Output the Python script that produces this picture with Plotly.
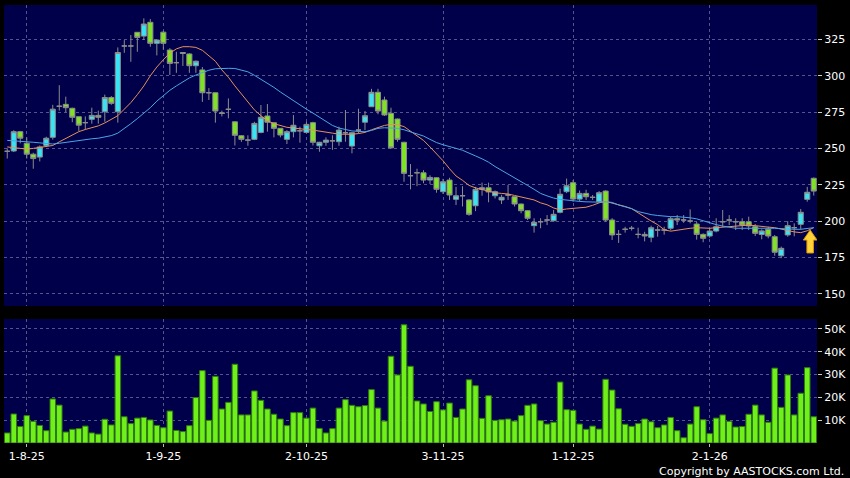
import pandas as pd
import plotly.graph_objects as go
from plotly.subplots import make_subplots

# trading days shown (HK holidays removed)
holidays = ["2025-10-01", "2025-10-29", "2025-12-25", "2025-12-26", "2026-01-01"]
days = pd.bdate_range("2025-07-29", "2026-01-26")
dates = [d.strftime("%Y-%m-%d") for d in days if d.strftime("%Y-%m-%d") not in holidays]

tick_dates = ["2025-08-01", "2025-09-01", "2025-10-02", "2025-11-03", "2025-12-01", "2026-01-02"]
tick_labels = ["1-8-25", "1-9-25", "2-10-25", "3-11-25", "1-12-25", "2-1-26"]

opens = [248, 248.2, 261.5, 253.5, 246, 244, 252, 257.6, 279, 280.3,
         277.6, 271.8, 267.7, 270, 272.7, 275.2, 285, 275.2, 320.5, 320.5,
         329.9, 327.3, 336.8, 322.3, 330, 317.7, 309, 316, 315, 306.9,
         304, 288.3, 288.3, 274.5, 276.9, 268.3, 258.7, 255.7, 256.2, 261,
         272.3, 267.7, 263.8, 256.2, 261.5, 262.1, 261, 267.7, 251.8, 254.2,
         255.2, 254.6, 260.8, 251.6, 262.6, 268, 278.7, 288.6, 283.3, 274.1,
         270.2, 254.2, 231.2, 233.2, 233.2, 228.2, 229.8, 220.2, 228.2, 214.9,
         217.4, 214.5, 210.5, 221.8, 222.9, 217.4, 214.5, 217.9, 216.7, 211.7,
         207.1, 196.8, 199.5, 200.7, 200.2, 206, 220.2, 226.4, 215.1, 219,
         216.3, 213.3, 220.6, 200.7, 190.8, 194.3, 195, 190.8, 190.8, 188.8,
         193.8, 193.8, 195, 201.6, 200.7, 200, 197.9, 190.8, 189.7, 193.1,
         199.5, 200.7, 199.5, 199.5, 199.5, 196.1, 190.7, 194.3, 189.2, 176.1,
         190.4, 195.4, 197.7, 214.9, 229.4]
highs = [250, 262.5, 262, 257.5, 247, 252, 258, 280, 293.5, 285.6,
         278, 272, 272, 278, 276, 287, 286, 319.5, 324.5, 328,
         330, 339.5, 339, 325, 331, 319, 316.5, 316, 315.5, 310.5,
         306, 291.5, 288.5, 276, 284.4, 268.5, 259, 259, 268.3, 279.8,
         280.5, 268, 264, 262.6, 273, 264.9, 268.3, 268.3, 254.5, 257.6,
         259, 264.9, 276.4, 261, 277.3, 275.7, 291, 291, 285.6, 278,
         270.5, 254.5, 239.2, 236, 235, 231.5, 230, 229, 229.8, 223.5,
         224, 215, 223.5, 226.4, 226.4, 221, 218, 224.8, 217, 212,
         207.5, 201.9, 201.9, 204.1, 207.6, 222.3, 229.2, 228.2, 221, 221.5,
         217.9, 220.6, 221.2, 202, 193.8, 196, 196.6, 195.4, 192.6, 196.8,
         196.6, 196.1, 203, 204.1, 204.1, 208, 199.5, 191.5, 195, 201.9,
         207.6, 204.1, 201.9, 201.9, 203, 197.9, 194.3, 196.1, 190.4, 182.4,
         199.9, 198.4, 208.3, 223.5, 230]
lows = [243, 247.5, 253.5, 243, 236, 241, 251, 256, 276, 275,
        268, 262, 263, 267, 267, 268.3, 280, 267.7, 315.8, 309.6,
        316.5, 324.6, 320, 314, 318, 300.5, 302, 306.7, 302, 302,
        282, 283.3, 267.7, 272, 270.7, 252, 254.5, 251.8, 255.7, 260.4,
        261.5, 257.6, 257.6, 253, 257.6, 253.9, 260.4, 252, 247.7, 251.8,
        249, 251.8, 254.6, 246.6, 260.4, 262.6, 278.7, 273.5, 272.3, 249.8,
        254.6, 227, 221.8, 224, 226, 225.5, 219.5, 218.6, 214.5, 211,
        210, 203.6, 206.8, 217.4, 212.9, 215.5, 211.7, 214.5, 210, 205.3,
        200.7, 192, 195, 197.2, 199.5, 205.3, 219.2, 213.3, 213.3, 214.5,
        214.5, 212.5, 199.6, 187, 184.9, 192, 193.4, 188.1, 186, 185.4,
        189.2, 190.6, 193.6, 197.2, 198.8, 198.4, 187.2, 185.4, 188.5, 192.2,
        196, 197.2, 193.8, 193.8, 193.8, 189.7, 187.4, 188.1, 176.1, 174.4,
        189.2, 189.5, 194.3, 213.3, 217.5]
closes = [248, 261.5, 257, 246, 243, 251, 257, 277, 279, 278,
          271.4, 266, 267.7, 272.7, 271.4, 285, 281, 316, 320.5, 320.5,
          326.4, 335.6, 322.3, 324.6, 322.3, 308.5, 309, 315.4, 306.9, 310,
          288.3, 288.3, 275.7, 274, 276.9, 259, 256.2, 255.7, 267.2, 271.4,
          268, 263.8, 259.2, 261.5, 265.9, 262.1, 266.5, 254.2, 254.2, 255.7,
          255.2, 262.6, 260.8, 260.8, 262.6, 272.5, 288.6, 275.7, 273, 250.4,
          256.2, 232.8, 231.2, 233.2, 228.2, 230, 221.8, 227, 217.9, 217.4,
          217.4, 204.6, 221.8, 222.9, 220, 220.2, 216.3, 217.9, 211.7, 207.1,
          201.9, 199.1, 199.5, 200.7, 204.6, 218.4, 224.3, 215.1, 219, 216.7,
          216.3, 219.5, 200.7, 190.4, 190.8, 194.3, 195, 190.8, 189.7, 195.4,
          193.8, 193.8, 201.6, 200.7, 200.7, 200, 190.8, 188.1, 193.1, 196.1,
          199.5, 200.7, 199.5, 197.2, 196.6, 191.5, 193.2, 189.7, 178.5, 181.2,
          196.8, 195.4, 206, 219.8, 220.6]

# moving averages as drawn on the chart
ma_short = [251, 250.5, 250, 249.5, 250, 250.5, 251, 252, 254.5, 257,
            259.5, 261.5, 263, 264, 265.5, 267.5, 270, 272.5, 277, 281.5,
            287, 293, 300, 306, 311, 315.5, 318.5, 320, 320, 319.5,
            317.5, 314, 310, 304, 299, 293, 287.5, 282, 276.5, 272.5,
            269, 267, 265.5, 264.5, 264, 263.3, 263, 262.6, 262, 261.6,
            260.5, 259.8, 259.7, 259.7, 260.2, 261, 262.8, 264.5, 265.8, 266.5,
            266.3, 265, 262, 258.5, 255.5, 251, 246.5, 241.5, 236, 231,
            228, 224.5, 222.8, 221.7, 220.5, 219.4, 219, 218.6, 217.6, 216.7,
            215.5, 214.5, 212.5, 211.2, 209, 207.6, 208.3, 208.7, 208.7, 209.5,
            210.8, 212.5, 213.5, 212.5, 211, 210, 208.5, 205.5, 202.5, 200,
            197.5, 194, 193, 193.8, 194.5, 195, 195.4, 195.2, 195, 195.4,
            195.8, 196.4, 196.8, 197.1, 197.2, 196.8, 196.1, 195.8, 195.4, 194.3,
            193.1, 192.5, 192, 193.3, 195.5]
ma_long = [255.5, 255.3, 255, 254.6, 254.2, 253.8, 253.3, 253, 253.5, 254.2,
           254.8, 255.5, 256.2, 256.6, 257, 257.8, 258.8, 260.5, 263.5, 267,
           270.5, 274, 278, 282.5, 286.5, 290, 293, 296, 298.5, 300.5,
           302.3, 303.8, 304.8, 305.1, 305.1, 305, 304, 302.7, 300.3, 297.7,
           295, 292, 288.8, 285.7, 282.7, 279.7, 277, 274.3, 271.3, 268.3,
           265.8, 264, 263, 262, 261.7, 261.5, 262.3, 263.8, 264.2, 264,
           263.8, 262.8, 261.3, 259.5, 258.5, 256.2, 254, 252.5, 251, 250,
           248.7, 247, 244.8, 242.8, 240.5, 237.5, 235, 232.3, 229.5, 227,
           224.5, 221.8, 219, 217.3, 215.8, 214.9, 214.3, 213.8, 213.5, 213.2,
           212.9, 213, 213.2, 212.8, 211, 210, 208.5, 206.5, 205.2, 204.4,
           203.8, 203.2, 203, 203, 202.8, 202.2, 201.5, 200, 198.5, 197.5,
           196.5, 195.6, 195, 195, 195, 195.2, 195.4, 195.2, 195, 194.8,
           194.3, 194.3, 194.3, 194.8, 195.4]

# volume in thousands
volume_k = [4.4, 12.7, 7.2, 12, 9.5, 7.7, 5.4, 19.3, 16.6, 4.8,
            6, 6.3, 7.4, 4.4, 3.9, 10.4, 7.9, 38.2, 11.5, 8.5,
            10.9, 11.2, 10.1, 7.7, 6.7, 14, 5.5, 5, 7.6, 19.9,
            31.7, 9.9, 29.2, 14.9, 17.8, 34.5, 12.3, 12.3, 22.8, 18.7,
            14.9, 12.6, 10.5, 7.6, 13.3, 13.3, 10.9, 15.3, 6.4, 4.4,
            6.3, 15.3, 19, 16.5, 15.9, 16.4, 23.4, 15.3, 9.6, 38,
            29.8, 51.8, 33.6, 18.4, 17.1, 13.8, 18.1, 14.5, 17.5, 11.2,
            14.9, 27.7, 25.1, 10.8, 20.7, 9.9, 10.2, 10.5, 9.6, 12,
            16.5, 17.1, 9.8, 8.3, 9.1, 26.7, 14.6, 14.3, 8.3, 6,
            7.4, 6.1, 27.9, 23.2, 15, 8.2, 7.3, 8.5, 10.5, 9.3,
            6.7, 7.9, 11.2, 5.4, 2.3, 8.3, 15.9, 10.2, 4.1, 10.9,
            12.3, 9.5, 7, 7.2, 12.6, 16.6, 12.3, 9.1, 32.8, 15.6,
            29.8, 12.3, 21.8, 33, 11.5]

price_ticks = [150, 175, 200, 225, 250, 275, 300, 325]
vol_ticks = [10, 20, 30, 40, 50]
vol_labels = ["10K", "20K", "30K", "40K", "50K"]

bg = "#00004a"
grid = "#55558c"
up_col = "#38e4f4"
down_col = "#80e224"
wick_col = "#8c8c8c"

fig = make_subplots(rows=2, cols=1, shared_xaxes=True)

fig.add_trace(go.Candlestick(
    x=dates, open=opens, high=highs, low=lows, close=closes,
    increasing=dict(fillcolor=up_col, line=dict(color=wick_col, width=1)),
    decreasing=dict(fillcolor=down_col, line=dict(color=wick_col, width=1)),
    hoverinfo="skip"), row=1, col=1)
fig.add_trace(go.Scatter(x=dates, y=ma_short, mode="lines",
                         line=dict(color="#e8905a", width=1)), row=1, col=1)
fig.add_trace(go.Scatter(x=dates, y=ma_long, mode="lines",
                         line=dict(color="#4aa6e6", width=1)), row=1, col=1)

fig.add_trace(go.Bar(x=dates, y=volume_k,
                     marker=dict(color="#70f01a", line=dict(color="#2f7a10", width=1))),
              row=2, col=1)

# yellow arrow marker on the last sessions
fig.add_shape(type="path", xref="x", yref="y",
              path="M 123.45 193.8 L 124.5 186.9 L 123.95 186.9 L 123.95 178 "
                   "L 122.95 178 L 122.95 186.9 L 122.4 186.9 Z",
              fillcolor="#ffd23a", line=dict(color="#d99a00", width=1))

fig.add_annotation(text="Copyright by AASTOCKS.com Ltd.", xref="paper", yref="paper",
                   x=1.0357, y=-0.064, xanchor="right", yanchor="middle",
                   showarrow=False, font=dict(size=11, color="white"))

axis_common = dict(type="category", range=[-0.5, 124.5], tickvals=tick_dates,
                   ticktext=tick_labels, showgrid=True, gridcolor=grid,
                   griddash="3px,3px", gridwidth=1, zeroline=False, showline=False,
                   rangeslider=dict(visible=False))
fig.update_layout(
    xaxis=dict(axis_common, showticklabels=False, ticks=""),
    xaxis2=dict(axis_common, ticks="outside", ticklen=3, tickcolor="#bbbbbb"),
    yaxis=dict(domain=[0.3128, 1], range=[141.5, 348.7], side="right",
               tickvals=price_ticks, ticks="outside", ticklen=4, tickcolor="#cccccc",
               showgrid=True, gridcolor=grid, griddash="3px,3px", zeroline=False),
    yaxis2=dict(domain=[0, 0.283], range=[0, 54.3], side="right",
                tickvals=vol_ticks, ticktext=vol_labels, ticks="outside", ticklen=4,
                tickcolor="#cccccc", showgrid=True, gridcolor=grid, griddash="3px,3px",
                zeroline=False),
    width=850, height=478,
    margin=dict(l=4, r=33, t=5, b=35),
    paper_bgcolor="black", plot_bgcolor=bg,
    font=dict(family="DejaVu Sans", size=11, color="white"),
    showlegend=False, boxgap=0.22, boxgroupgap=0, bargap=0.15, hovermode=False,
)

fig.write_html("out.html", config={"displayModeBar": False},
               post_script="document.body.style.margin='0';"
                           "document.body.style.background='black';")
